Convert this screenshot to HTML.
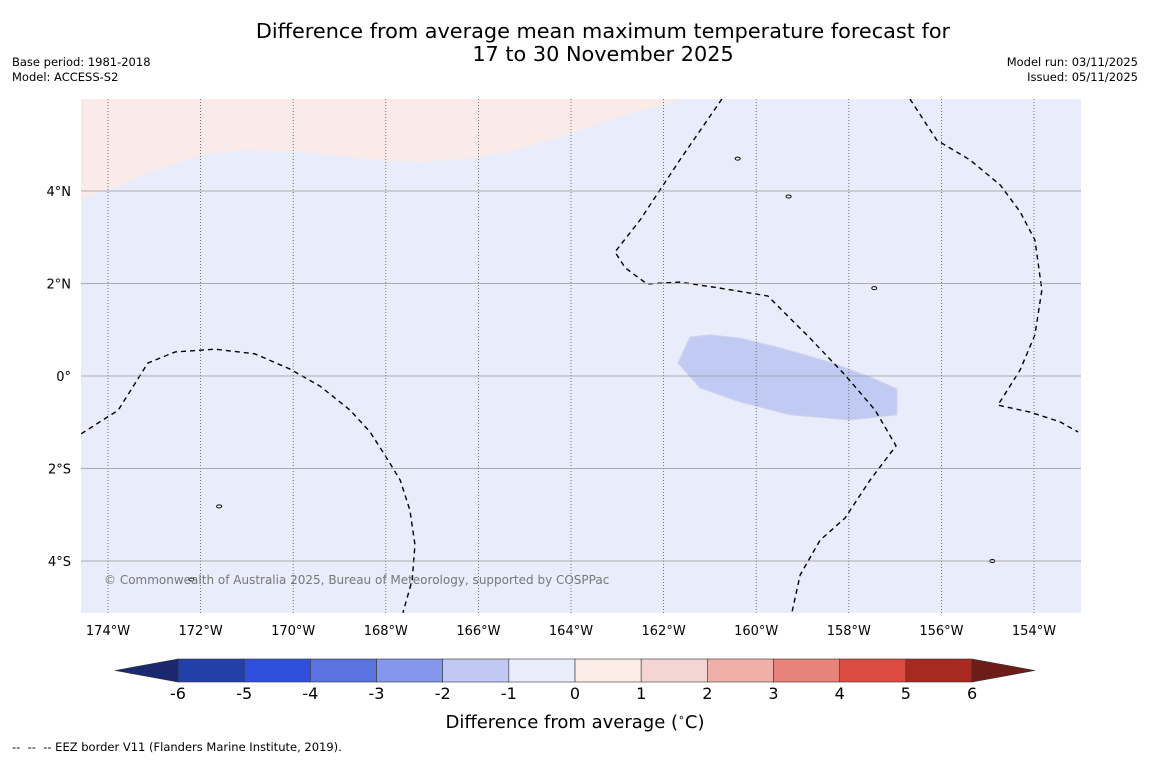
<!DOCTYPE html>
<html><head><meta charset="utf-8"><style>
body{margin:0;background:#fff;width:1150px;height:758px;overflow:hidden;font-family:"DejaVu Sans","Liberation Sans",sans-serif;}
svg text{font-family:"DejaVu Sans","Liberation Sans",sans-serif;}
</style></head><body>
<svg id="c" width="1150" height="758" xmlns="http://www.w3.org/2000/svg">
<text x="603" y="38" font-size="20.8" text-anchor="middle">Difference from average mean maximum temperature forecast for</text>
<text x="603" y="61" font-size="20.8" text-anchor="middle">17 to 30 November 2025</text>
<text x="12" y="66" font-size="11.5">Base period: 1981-2018</text>
<text x="12" y="81" font-size="11.5">Model: ACCESS-S2</text>
<text x="1138" y="66" font-size="11.5" text-anchor="end">Model run: 03/11/2025</text>
<text x="1138" y="81" font-size="11.5" text-anchor="end">Issued: 05/11/2025</text>
<defs><clipPath id="mc"><rect x="81" y="99" width="1000" height="514"/></clipPath></defs>
<g id="map" clip-path="url(#mc)"></g>
<g id="grid"></g>
<g id="axes"></g>
<text x="104" y="584" font-size="12" fill="#777">© Commonwealth of Australia 2025, Bureau of Meteorology, supported by COSPPac</text>
<g id="cbar"></g>
<text x="575" y="728" font-size="18" text-anchor="middle">Difference from average (<tspan font-size="11" dy="-7">∘</tspan><tspan dy="7">C)</tspan></text>
<text x="12" y="751" font-size="11.5" xml:space="preserve">--  --  -- EEZ border V11 (Flanders Marine Institute, 2019).</text>
</svg>
<script>
const lonTicks=[-174,-172,-170,-168,-166,-164,-162,-160,-158,-156,-154];
const lonLabels=["174°W","172°W","170°W","168°W","166°W","164°W","162°W","160°W","158°W","156°W","154°W"];
const latTicks=[4,2,0,-2,-4];
const latLabels=["4°N","2°N","0°","2°S","4°S"];
const cbLevels=[-6,-5,-4,-3,-2,-1,0,1,2,3,4,5,6];
const cbColors=["#2340a8","#2f4fdc","#5a73e0","#8597eb","#c0c8f3","#e9ecfa","#fbece8","#f3d6d3","#efb0aa","#e8837b","#dc4b40","#a82920"];
const warmLon=[-174.58,-173.78,-173.09,-172.01,-171.15,-170.07,-169.21,-168.13,-167.26,-166.18,-165.32,-164.24,-162.94,-161.54];
const warmLat=[3.83,4.11,4.41,4.78,4.89,4.86,4.78,4.67,4.63,4.71,4.86,5.17,5.62,5.99];
const coolLon=[-161.69,-161.43,-161.0,-160.35,-159.49,-158.41,-157.54,-156.96,-156.96,-157.97,-159.27,-160.35,-161.21];
const coolLat=[0.28,0.84,0.89,0.82,0.61,0.30,-0.02,-0.28,-0.84,-0.95,-0.84,-0.56,-0.26];
const eez1Lon=[-174.58,-173.78,-173.14,-172.55,-171.69,-170.83,-170.07,-169.42,-168.77,-168.34,-168.02,-167.69,-167.48,-167.37,-167.43,-167.63];
const eez1Lat=[-1.25,-0.74,0.28,0.52,0.58,0.48,0.15,-0.22,-0.74,-1.21,-1.71,-2.25,-2.90,-3.65,-4.41,-5.12];
const eez2Lon=[-160.74,-161.65,-162.51,-163.05,-162.83,-162.36,-161.65,-160.78,-159.75,-158.84,-158.08,-157.43,-156.98,-157.54,-158.08,-158.62,-159.05,-159.23];
const eez2Lat=[5.99,4.67,3.37,2.68,2.34,1.99,2.03,1.90,1.73,0.82,0.02,-0.74,-1.51,-2.25,-3.07,-3.55,-4.30,-5.12];
const eez3Lon=[-156.68,-156.10,-155.38,-154.73,-154.30,-153.98,-153.83,-153.98,-154.30,-154.78,-154.09,-153.44,-153.05];
const eez3Lat=[5.99,5.10,4.67,4.13,3.55,2.94,1.86,0.89,0.13,-0.63,-0.78,-0.99,-1.21];
const islandLon=[-159.3,-157.45,-171.6,-172.2,-154.9,-160.4];
const islandLat=[3.88,1.90,-2.82,-4.4,-4.0,4.7];

const NS="http://www.w3.org/2000/svg";
const X=lon=>108+(lon+174)*46.3;
const Y=lat=>376-lat*46.25;
const CX=v=>178+(v+6)*66.17;
function mk(tag,attrs,parent){const e=document.createElementNS(NS,tag);for(const k in attrs)e.setAttribute(k,attrs[k]);parent.appendChild(e);return e;}
const map=document.getElementById('map'),grid=document.getElementById('grid'),axes=document.getElementById('axes'),cb=document.getElementById('cbar');
let bg=mk('rect',{x:81,y:99,width:1000,height:514,fill:'#e9ecfb'},map);


let wp='M'+X(-175)+','+Y(7)+' L'+warmLon.map((l,i)=>X(l)+','+Y(warmLat[i])).join(' L')+' L'+X(-150)+','+Y(7)+'Z';
let warm=mk('path',{d:wp,fill:'#fbebe8'},map);


let cool=mk('path',{d:'M'+coolLon.map((l,i)=>X(l)+','+Y(coolLat[i])).join(' L')+'Z',fill:'#c0caf3',stroke:'#d0d4ea','stroke-width':1},map);


lonTicks.forEach((l,i)=>{
 let g=mk('line',{x1:X(l),x2:X(l),y1:99,y2:613,stroke:'#555','stroke-width':0.8,'stroke-dasharray':'1,2'},grid);
 
 
 let t=mk('text',{x:X(l),y:635,'font-size':13,'text-anchor':'middle'},axes);t.textContent=lonLabels[i];
 
 
});
latTicks.forEach((l,i)=>{
 let g=mk('line',{x1:81,x2:1081,y1:Y(l),y2:Y(l),stroke:'#999','stroke-width':0.8},grid);
 
 
 let t=mk('text',{x:71,y:Y(l)+5,'font-size':13,'text-anchor':'end'},axes);t.textContent=latLabels[i];
 
 
});
[[eez1Lon,eez1Lat],[eez2Lon,eez2Lat],[eez3Lon,eez3Lat]].forEach(([lo,la])=>{
 let p=mk('path',{d:'M'+lo.map((l,i)=>X(l)+','+Y(la[i])).join(' L'),fill:'none',stroke:'#000','stroke-width':1.4,'stroke-dasharray':'5,4'},map);
 
 
});
islandLon.forEach((l,i)=>{
 let e=mk('ellipse',{cx:X(l),cy:Y(islandLat[i]),rx:2.5,ry:1.5,fill:'#fff',stroke:'#000','stroke-width':1},map);
 
 
});
for(let i=0;i<cbColors.length;i++){
 let r=mk('rect',{x:CX(cbLevels[i]),y:659,width:CX(cbLevels[i+1])-CX(cbLevels[i]),height:23,fill:cbColors[i],stroke:'#333','stroke-width':0.6},cb);
 
 
}
let tl=mk('polygon',{points:`${CX(-6)},659 115,670.5 ${CX(-6)},682`,fill:'#1b2870',stroke:'#333','stroke-width':0.6},cb);


let tr=mk('polygon',{points:`${CX(6)},659 1035,670.5 ${CX(6)},682`,fill:'#6e1c18',stroke:'#333','stroke-width':0.6},cb);


cbLevels.forEach(v=>{
 let t=mk('text',{x:CX(v),y:699,'font-size':16,'text-anchor':'middle'},cb);t.textContent=v;
 
 
});
</script>
</body></html>
